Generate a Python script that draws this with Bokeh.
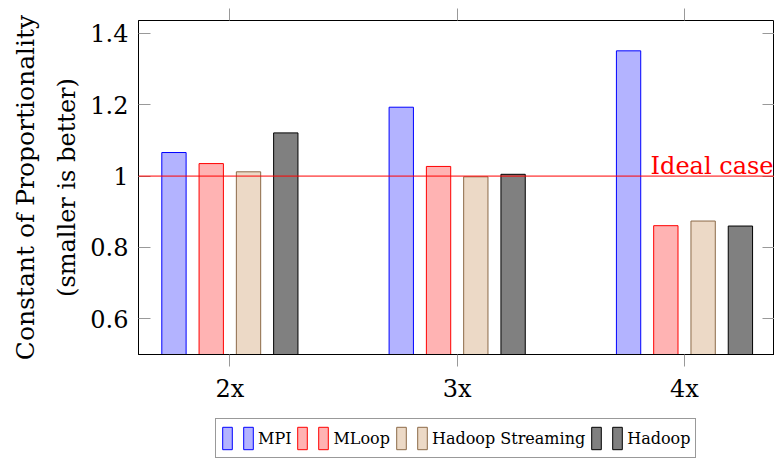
from bokeh.plotting import figure
from bokeh.layouts import column
from bokeh.models import (Range1d, FixedTicker, LinearAxis, Span, Label, Legend,
                          LegendItem, Title, ColumnDataSource)
from bokeh.core.properties import value
from bokeh.embed import file_html
from bokeh.resources import INLINE

# ---- data ----
categories = ["2x", "3x", "4x"]
series = ["MPI", "MLoop", "Hadoop Streaming", "Hadoop"]
mpi = [1.066, 1.193, 1.351]
mloop = [1.035, 1.027, 0.861]
hadoop_streaming = [1.012, 0.998, 0.874]
hadoop = [1.121, 1.005, 0.860]
ideal_value = 1.0
y_ticks = [0.6, 0.8, 1.0, 1.2, 1.4]
y_tick_labels = ["0.6", "0.8", "1", "1.2", "1.4"]

# ---- styles ----
FONT = "DejaVu Serif"
fills = ["#b3b3ff", "#ffb3b3", "#ecd9c6", "#808080"]
lines = ["#0000ff", "#ff0000", "#8c6a48", "#000000"]
TICK_COLOR = "#999999"
bar_step = 0.164
bar_width = 0.107
x_start, x_end = 0.598, 3.396
y_start, y_end = 0.5, 1.436

positions = [i + 1 for i in range(len(categories))]

p = figure(width=774, height=410, output_backend="svg", toolbar_location=None,
           x_range=Range1d(x_start, x_end), y_range=Range1d(y_start, y_end),
           x_axis_location="below", y_axis_location="left")
p.min_border = 0
p.min_border_left = 138
p.min_border_right = 0
p.min_border_top = 20
p.min_border_bottom = 56
p.xgrid.visible = False
p.ygrid.visible = False
p.outline_line_color = "black"
p.outline_line_width = 1
p.background_fill_color = "white"
p.border_fill_color = "white"

# bars
sources = []
all_vals = [mpi, mloop, hadoop_streaming, hadoop]
for k, vals in enumerate(all_vals):
    off = (k - 1.5) * bar_step
    src = ColumnDataSource(dict(x=[pp + off for pp in positions], top=vals))
    p.vbar(x="x", top="top", bottom=y_start, width=bar_width, source=src,
           fill_color=fills[k], line_color=lines[k], line_width=1)
    sources.append(src)

# ideal line
p.add_layout(Span(location=ideal_value, dimension="width", line_color="#ff0000", line_width=1))
p.add_layout(Label(x=x_end, y=ideal_value, text="Ideal case", text_align="right",
                   text_baseline="alphabetic", x_offset=-1, y_offset=10,
                   text_color="#ff0000", text_font=FONT, text_font_size="24px"))

# x axis (bottom)
xa = p.xaxis[0]
xa.ticker = FixedTicker(ticks=positions)
xa.major_label_overrides = {pp: c for pp, c in zip(positions, categories)}
xa.major_tick_in = 0
xa.major_tick_out = 12
xa.major_tick_line_color = TICK_COLOR
xa.minor_tick_line_color = None
xa.axis_line_color = "black"
xa.major_label_text_font = FONT
xa.major_label_text_font_size = "24px"
xa.major_label_text_color = "black"
xa.major_label_standoff = 8

# y axis (left)
ya = p.yaxis[0]
ya.ticker = FixedTicker(ticks=y_ticks)
ya.major_label_overrides = {t: l for t, l in zip(y_ticks, y_tick_labels)}
ya.major_tick_in = 12
ya.major_tick_out = 0
ya.major_tick_line_color = TICK_COLOR
ya.minor_tick_line_color = None
ya.axis_line_color = "black"
ya.major_label_text_font = FONT
ya.major_label_text_font_size = "24px"
ya.major_label_text_color = "black"
ya.major_label_standoff = 10

# mirrored axes (ticks only, empty labels)
top_ax = LinearAxis(ticker=FixedTicker(ticks=positions), major_tick_in=0, major_tick_out=12,
                    major_tick_line_color=TICK_COLOR, minor_tick_line_color=None,
                    axis_line_color=None, major_label_text_font_size="1px",
                    major_label_overrides={pp: "" for pp in positions},
                    major_label_standoff=0)
p.add_layout(top_ax, "above")
right_ax = LinearAxis(ticker=FixedTicker(ticks=y_ticks), major_tick_in=12, major_tick_out=0,
                      major_tick_line_color=TICK_COLOR, minor_tick_line_color=None,
                      axis_line_color=None, major_label_text_font_size="1px",
                      major_label_overrides={t: "" for t in y_ticks},
                      major_label_standoff=0)
p.add_layout(right_ax, "right")

# y label (two lines)
t2 = Title(text="(smaller is better)", align="center", text_font=FONT, text_color="black",
           text_font_size="24px", text_font_style="normal", standoff=13)
t1 = Title(text="Constant of Proportionality", align="center", text_font=FONT, text_color="black",
           text_font_size="25px", text_font_style="normal", standoff=9)
p.add_layout(t2, "left")
p.add_layout(t1, "left")

# ---- legend strip below the chart (its frame is aligned with the chart frame) ----
lg = figure(width=774, height=49, output_backend="svg", toolbar_location=None,
            x_range=Range1d(-2, -1), y_range=Range1d(-2, -1),
            x_axis_location=None, y_axis_location=None)
lg.min_border = 0
lg.xgrid.visible = False
lg.ygrid.visible = False
lg.outline_line_color = None
lg.background_fill_color = "white"
lg.border_fill_color = "white"

items = []
for k, s in enumerate(series):
    # same series data, out of this strip's view; only used as legend keys
    key = lg.vbar(x="x", top="top", bottom=y_start, width=bar_width, source=sources[k],
                  fill_color=fills[k], line_color=lines[k], line_width=1)
    items.append(LegendItem(label=value(""), renderers=[key]))
    items.append(LegendItem(label=value(s), renderers=[key]))
legend = Legend(items=items, orientation="horizontal", location=(77, 1),
                glyph_width=12, glyph_height=28, label_width=0, label_height=20,
                label_standoff=4, spacing=5, padding=5, margin=0,
                label_text_font=FONT, label_text_font_size="16px",
                label_text_color="black",
                border_line_color="#333333", border_line_width=1,
                background_fill_color="white", background_fill_alpha=1)
lg.add_layout(legend, "center")

layout = column(p, lg, spacing=0)
open("out.html", "w").write(file_html(layout, INLINE))
